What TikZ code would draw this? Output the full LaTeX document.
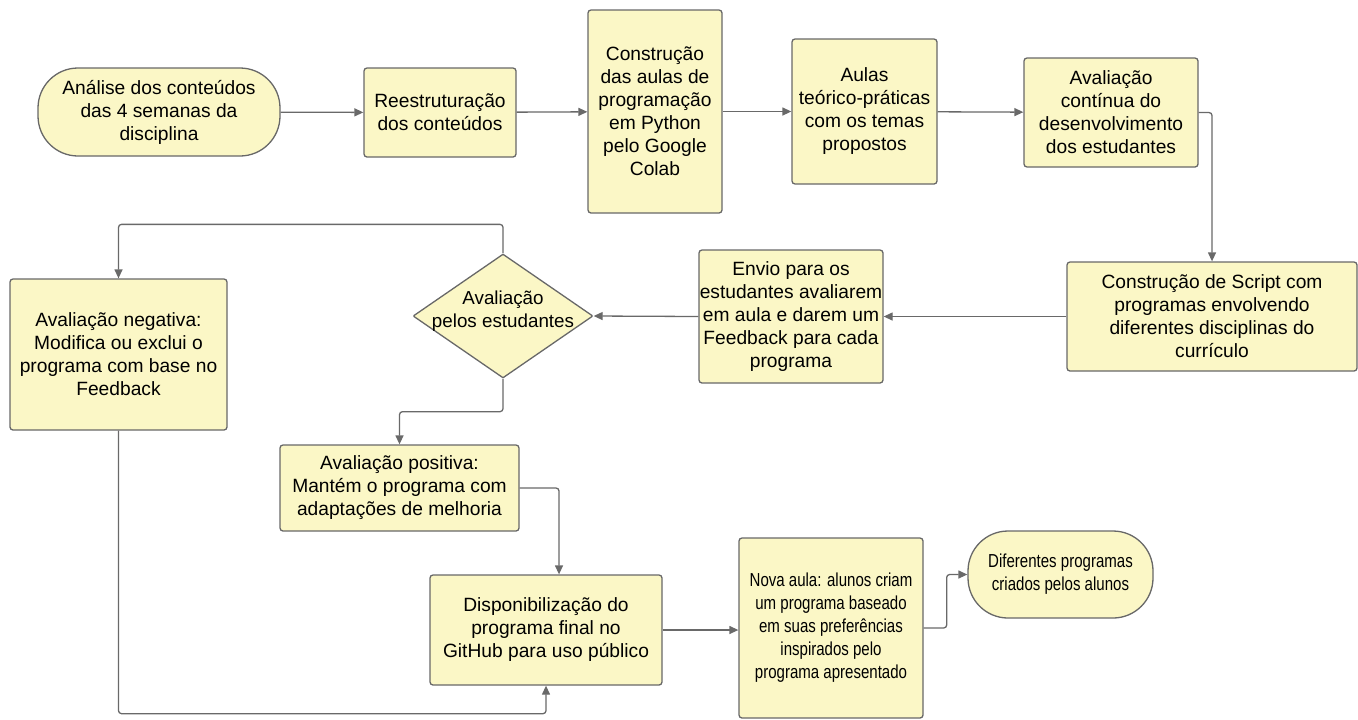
\documentclass[tikz,border=0pt]{standalone}
\usepackage{fontspec}
\setmainfont{Liberation Sans}
\newfontfamily\estreita[FakeStretch=0.8]{Liberation Sans}
\usetikzlibrary{arrows.meta,positioning,calc,shapes.geometric}
\definecolor{fundo}{RGB}{251,247,198}
\definecolor{borda}{RGB}{104,104,104}
\definecolor{linha}{RGB}{105,105,105}

\begin{document}
\begin{tikzpicture}[x=0.5pt,y=-0.5pt,
  bloco/.style={draw=borda,fill=fundo,line width=0.65pt,rounded corners=1.5pt,
    align=center,inner sep=0pt,font=\fontsize{9.6}{11.5}\selectfont},
  terminal/.style={bloco,rounded corners=20pt},
  estreito/.style={font=\estreita\fontsize{9.4}{11.5}\selectfont},
  decisao/.style={bloco,diamond,rounded corners=0.5pt,aspect=1.45,inner xsep=-5pt,
    inner ysep=-3pt,text depth=7pt,font=\fontsize{9.4}{11.5}\selectfont},
  seta/.style={draw=linha,line width=0.65pt,rounded corners=1.5pt,
    -{Triangle[length=4.5pt,width=4pt]}}]
  \useasboundingbox (0,0) rectangle (1358,719);

  % linha de cima
  \node[terminal,minimum width=121pt,minimum height=44pt] (inicio) at (159,112)
    {Análise dos conteúdos\\das 4 semanas da\\disciplina};
  \node[bloco,minimum width=76pt,minimum height=44.5pt] (reestr) at (440,112.5)
    {Reestruturação\\dos conteúdos};
  \node[bloco,minimum width=67pt,minimum height=101.5pt] (colab) at (655,111.5)
    {Construção\\das aulas de\\programação\\em Python\\pelo Google\\Colab};
  \node[bloco,minimum width=72.5pt,minimum height=72.5pt] (aulas) at (864.5,111.5)
    {Aulas\\teórico-práticas\\com os temas\\propostos};
  \node[bloco,minimum width=87pt,minimum height=54.5pt] (continua) at (1111,112.5)
    {Avaliação\\contínua do\\desenvolvimento\\dos estudantes};

  % linha do meio
  \node[bloco,minimum width=145pt,minimum height=54.5pt] (script) at (1212,316.5)
    {Construção de Script com\\programas envolvendo\\diferentes disciplinas do\\currículo};
  \node[bloco,minimum width=92pt,minimum height=66.5pt] (envio) at (791,316.5)
    {Envio para os\\estudantes avaliarem\\em aula e darem um\\Feedback para cada\\programa};
  \node[decisao,minimum width=90pt,minimum height=62pt] (avaliacao) at (503,316)
    {Avaliação\\pelos estudantes};
  \node[bloco,minimum width=108.5pt,minimum height=75.5pt] (negativa) at (118.5,354.5)
    {Avaliação negativa:\\Modifica ou exclui o\\programa com base no\\Feedback};

  % linha de baixo
  \node[bloco,minimum width=119.5pt,minimum height=43pt] (positiva) at (399.5,488)
    {Avaliação positiva:\\Mantém o programa com\\adaptações de melhoria};
  \node[bloco,minimum width=116pt,minimum height=55pt] (github) at (546,630)
    {Disponibilização do\\programa final no\\GitHub para uso público};
  \node[bloco,estreito,minimum width=92pt,minimum height=90pt] (nova) at (831,628)
    {Nova aula: alunos criam\\um programa baseado\\em suas preferências\\inspirados pelo\\programa apresentado};
  \node[terminal,estreito,minimum width=92.5pt,minimum height=43.5pt] (fim) at (1060.5,574.5)
    {Diferentes programas\\criados pelos alunos};

  % setas
  \draw[seta] (inicio) -- (reestr);
  \draw[seta] (reestr) -- (colab);
  \draw[seta] (colab) -- (aulas);
  \draw[seta] (aulas) -- (continua);
  \draw[seta] (continua.east) -| (script.north);
  \draw[seta] (script.west) -- (envio.east);
  \draw[seta] (envio.west) -- (avaliacao.east);
  \draw[seta] (avaliacao.north) -- ++(0,-29) -| (negativa.north);
  \draw[seta] (avaliacao.south) -- ++(0,33) -| (positiva.north);
  \draw[seta] (positiva.east) -| ($(github.north)+(13,0)$);
  \draw[seta] (negativa.south) -- ++(0,283) -| (github.south);
  \draw[seta] (github.east) -- (github.east -| nova.west);
  \draw[seta] (nova.east) -- ++(23,0) |- (fim.west);
\end{tikzpicture}
\end{document}
